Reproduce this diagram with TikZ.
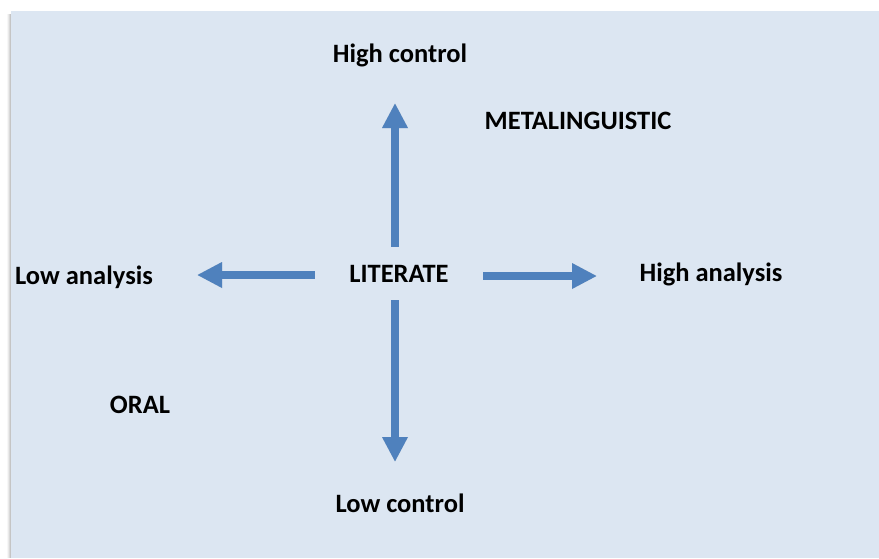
\documentclass[tikz,border=0pt]{standalone}
\usepackage{fontspec}
\setmainfont{Carlito}
\usetikzlibrary{arrows.meta}
\definecolor{panel}{RGB}{220,230,242}
\definecolor{arrowblue}{RGB}{79,129,189}
\tikzset{
  lbl/.style={font=\fontsize{26.5}{30}\selectfont\bfseries, inner sep=0pt},
  axis/.style={draw=arrowblue, line width=8pt,
    -{Triangle[width=24pt,length=25pt]}},
  axisshadow/.style={draw=black!60, opacity=0.2, line width=8pt,
    -{Triangle[width=24pt,length=25pt]}}
}
\begin{document}
\begin{tikzpicture}[x=1pt,y=-1pt]
 \useasboundingbox (0,0) rectangle (879,558);
 % panel with a soft shadow on its left side
 \foreach \s/\o in {4/0.03,3/0.05,2/0.07,1/0.09}
   \fill[black,opacity=\o] (11-\s,14) rectangle (11,558);
 \fill[panel] (11,11) rectangle (879,558);
 % labels
 \node[lbl] (lit) at (399,274) {LITERATE};
 \node[lbl] (hc) at (400,55) {High control};
 \node[lbl] (lc) at (400,503) {Low control};
 \node[lbl] (la) at (84,277) {Low analysis};
 \node[lbl] (ha) at (711,274) {High analysis};
 \node[lbl] (meta) at (578,121) {METALINGUISTIC};
 \node[lbl] (oral) at (140,405) {ORAL};
 % room round the centre label, where the arrows start
 \node[minimum width=168pt, minimum height=53pt] (core) at (399,273.5) {};
 \coordinate (uptip) at (395,103);
 \coordinate (downtip) at (395,462);
 \coordinate (lefttip) at (197,275);
 \coordinate (righttip) at (597,276);
 % arrows
 \begin{scope}[shift={(1.5,2)}]
  \draw[axisshadow] (core.north -| uptip) -- (uptip);
  \draw[axisshadow] (core.south -| downtip) -- (downtip);
  \draw[axisshadow] (core.west |- lefttip) -- (lefttip);
  \draw[axisshadow] (core.east |- righttip) -- (righttip);
 \end{scope}
 \draw[axis] (core.north -| uptip) -- (uptip);
 \draw[axis] (core.south -| downtip) -- (downtip);
 \draw[axis] (core.west |- lefttip) -- (lefttip);
 \draw[axis] (core.east |- righttip) -- (righttip);
\end{tikzpicture}
\end{document}
